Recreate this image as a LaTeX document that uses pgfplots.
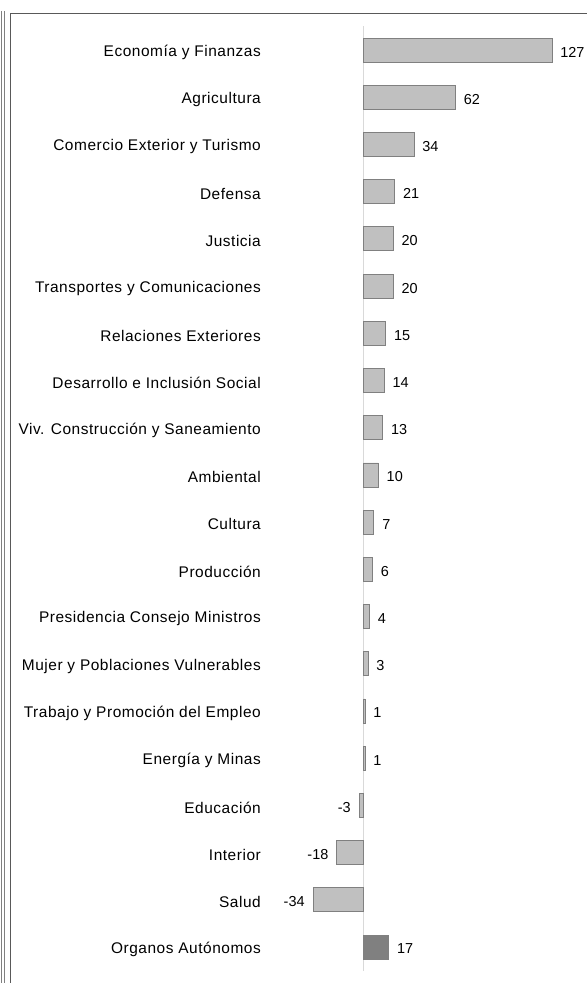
\documentclass[border=0pt]{standalone}
\usepackage{fontspec}
\setmainfont{Liberation Sans}
\usepackage{pgfplots}
\pgfplotsset{compat=1.18}
\definecolor{barfill}{HTML}{C0C0C0}
\definecolor{barline}{HTML}{808080}
\definecolor{darkbar}{HTML}{808080}
\definecolor{zeroline}{HTML}{D9D9D9}
\definecolor{framec}{HTML}{808080}
\begin{document}
\begin{tikzpicture}
\useasboundingbox (0,0) rectangle (587bp,983bp);
% frame lines
\draw[framec, line width=0.8bp] (1.2bp,972bp) -- (1.2bp,0);
\draw[framec, line width=0.8bp] (4.0bp,972bp) -- (4.0bp,0);
\draw[black!65, line width=0.9bp] (10.5bp,0) -- (10.5bp,970bp) -- (587bp,970bp);
\begin{axis}[
  at={(296.7bp,12.4bp)}, anchor=south west,
  scale only axis, width=289.4bp, height=944.2bp,
  xbar, bar width=24bp, bar shift=0pt,
  xmin=-45, xmax=150, ymin=-0.5, ymax=19.5, y dir=reverse,
  xtick=\empty,
  extra x ticks={0}, extra x tick labels={},
  extra x tick style={grid=major, major grid style={draw=zeroline, line width=1bp}, major tick length=0pt},
  ytick={0,...,19},
  yticklabels={Economía y Finanzas, Agricultura, Comercio Exterior y Turismo, Defensa, Justicia, Transportes y Comunicaciones, Relaciones Exteriores, Desarrollo e Inclusión Social, Viv. Construcción y Saneamiento, Ambiental, Cultura, Producción, Presidencia Consejo Ministros, Mujer y Poblaciones Vulnerables, Trabajo y Promoción del Empleo, Energía y Minas, Educación, Interior, Salud, Organos Autónomos},
  yticklabel style={anchor=east, inner xsep=0pt, xshift=-35.7bp, yshift=-2.3bp, font=\fontsize{15.5}{18}\selectfont\addfontfeature{LetterSpace=3.5}},
  axis line style={draw=none}, major tick length=0pt,
  nodes near coords, nodes near coords align={horizontal},
  every node near coord/.append style={font=\fontsize{14.5}{17}\selectfont, inner xsep=8bp, yshift=-2bp, black},
  /pgf/number format/assume math mode=true,
  clip=false,
]
\addplot[fill=barfill, draw=barline, line width=0.8bp] coordinates {
(127,0) (62,1) (34,2) (21,3) (20,4) (20,5) (15,6) (14,7) (13,8) (10,9) (7,10) (6,11) (4,12) (3,13) (1,14) (1,15) (-3,16) (-18,17) (-34,18)};
\addplot[fill=darkbar, draw=darkbar, line width=0.8bp] coordinates {(17,19)};
\end{axis}
\end{tikzpicture}
\end{document}
